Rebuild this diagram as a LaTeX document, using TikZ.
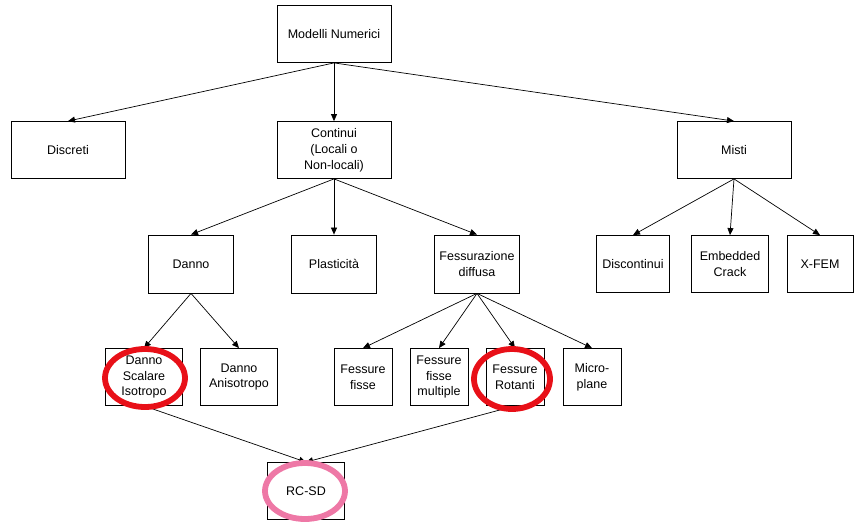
\documentclass[tikz,border=0pt]{standalone}
\usepackage{fontspec}
\setmainfont{Liberation Sans}
\usetikzlibrary{arrows.meta}
\definecolor{ringred}{RGB}{232,16,24}
\definecolor{ringpink}{RGB}{238,120,166}
\begin{document}
\begin{tikzpicture}[x=1pt,y=-1pt,
  box/.style={draw, line width=0.8pt, align=center, inner sep=0pt,
    font=\fontsize{12.5}{15.8}\selectfont},
  big/.style={box, minimum width=114pt, minimum height=57pt},
  mid/.style={box, minimum width=85pt, minimum height=58pt},
  small/.style={box, minimum width=77pt, minimum height=57pt},
  tiny/.style={box, minimum width=58pt, minimum height=57pt},
  arr/.style={-{Triangle[length=7pt,width=6pt]}, line width=0.7pt},
  ring/.style={line width=5.8pt}]
\useasboundingbox (0,0) rectangle (855,522);

\node[big] (mn) at (334,34) {Modelli Numerici};
\node[big] (disc) at (68,150) {Discreti};
\node[big] (cont) at (334,150) {Continui\\(Locali o\\Non-locali)};
\node[big] (misti) at (734,150) {Misti};

\node[mid] (danno) at (191,264) {Danno};
\node[mid] (plast) at (334,264) {Plasticità};
\node[mid] (fess) at (477,264) {Fessurazione\\diffusa};

\node[box, minimum width=73pt, minimum height=57pt] (dcont) at (633,264) {Discontinui};
\node[box, minimum width=77pt, minimum height=57pt] (emb) at (730,264) {Embedded\\Crack};
\node[box, minimum width=66pt, minimum height=57pt] (xfem) at (820,264) {X-FEM};

\node[small] (dsi) at (144,377) {Danno\\Scalare\\Isotropo};
\node[small] (dan) at (239,377) {Danno\\Anisotropo};
\node[tiny] (ff) at (363,377) {Fessure\\fisse};
\node[tiny] (ffm) at (439,377) {Fessure\\fisse\\multiple};
\node[tiny] (fr) at (515,377) {Fessure\\Rotanti};
\node[tiny] (mp) at (592,377) {Micro-\\plane};

\node[small] (rcsd) at (306,491) {RC-SD};

\draw[arr] (mn.south) -- (disc.north);
\draw[arr] (mn.south) -- (cont.north);
\draw[arr] (mn.south) -- (misti.north);

\draw[arr] (cont.south) -- (danno.north);
\draw[arr] (cont.south) -- (plast.north);
\draw[arr] (cont.south) -- (fess.north);

\draw[arr] (misti.south) -- (dcont.north);
\draw[arr] (misti.south) -- (emb.north);
\draw[arr] (misti.south) -- (xfem.north);

\draw[arr] (danno.south) -- (dsi.north);
\draw[arr] (danno.south) -- (dan.north);

\draw[arr] (fess.south) -- (ff.north);
\draw[arr] (fess.south) -- (ffm.north);
\draw[arr] (fess.south) -- (fr.north);
\draw[arr] (fess.south) -- (mp.north);

\draw[arr] (dsi.south) -- (rcsd.north);
\draw[arr] (fr.south) -- (rcsd.north);

\draw[ring, draw=ringred] (145,378) ellipse [x radius=40pt, y radius=29pt];
\draw[ring, draw=ringred] (512,379) ellipse [x radius=38pt, y radius=30pt];
\draw[ring, draw=ringpink] (305,491) ellipse [x radius=40pt, y radius=28pt];
\end{tikzpicture}
\end{document}
